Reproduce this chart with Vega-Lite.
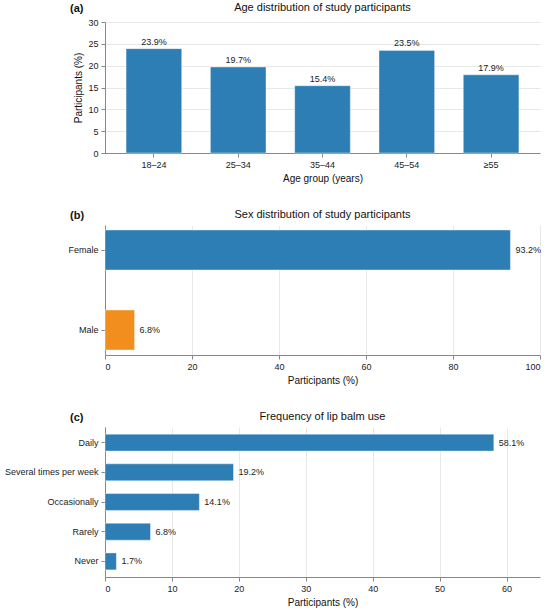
{
  "$schema": "https://vega.github.io/schema/vega-lite/v6.json",
  "description": "Study participants: age, sex and lip balm use",
  "padding": {"left": 4, "top": 2, "right": 5, "bottom": 4},
  "spacing": 26,
  "datasets": {
    "age": [
      {"group": "18–24", "pct": 23.9, "label": "23.9%"},
      {"group": "25–34", "pct": 19.7, "label": "19.7%"},
      {"group": "35–44", "pct": 15.4, "label": "15.4%"},
      {"group": "45–54", "pct": 23.5, "label": "23.5%"},
      {"group": "≥55", "pct": 17.9, "label": "17.9%"}
    ],
    "sex": [
      {"sex": "Female", "pct": 93.2, "label": "93.2%"},
      {"sex": "Male", "pct": 6.8, "label": "6.8%"}
    ],
    "freq": [
      {"freq": "Daily", "pct": 58.1, "label": "58.1%"},
      {"freq": "Several times per week", "pct": 19.2, "label": "19.2%"},
      {"freq": "Occasionally", "pct": 14.1, "label": "14.1%"},
      {"freq": "Rarely", "pct": 6.8, "label": "6.8%"},
      {"freq": "Never", "pct": 1.7, "label": "1.7%"}
    ]
  },
  "vconcat": [
    {
      "title": {"text": "(a)", "anchor": "start", "frame": "group", "dx": -35, "offset": -12, "fontWeight": "bold"},
      "vconcat": [
        {
          "title": "Age distribution of study participants",
          "width": 435,
          "height": 131,
          "data": {"name": "age"},
          "encoding": {
            "x": {
              "field": "group", "type": "nominal", "sort": null,
              "title": "Age group (years)",
              "scale": {"paddingInner": 0.34, "paddingOuter": 0.25},
              "axis": {"labelAngle": 0, "grid": false}
            },
            "y": {
              "field": "pct", "type": "quantitative",
              "title": "Participants (%)",
              "scale": {"domain": [0, 30], "nice": false},
              "axis": {"values": [0, 5, 10, 15, 20, 25, 30]}
            }
          },
          "layer": [
            {"mark": {"type": "bar", "color": "#2e7eb6", "stroke": "#ffffff", "strokeWidth": 0.8, "strokeOpacity": 0.5}},
            {"mark": {"type": "text", "baseline": "bottom", "dy": -2, "fontSize": 9, "color": "#222222"},
             "encoding": {"text": {"field": "label"}}}
          ]
        }
      ]
    },
    {
      "title": {"text": "(b)", "anchor": "start", "frame": "group", "dx": -35, "offset": -12, "fontWeight": "bold"},
      "vconcat": [
        {
          "title": "Sex distribution of study participants",
          "width": 435,
          "height": 130,
          "data": {"name": "sex"},
          "encoding": {
            "y": {
              "field": "sex", "type": "nominal", "sort": null, "title": null,
              "scale": {"paddingInner": 0.5, "paddingOuter": 0.0625},
              "axis": {"grid": false}
            },
            "x": {
              "field": "pct", "type": "quantitative",
              "title": "Participants (%)",
              "scale": {"domain": [0, 100], "nice": false},
              "axis": {"values": [0, 20, 40, 60, 80, 100]}
            }
          },
          "layer": [
            {"mark": {"type": "bar", "stroke": "#ffffff", "strokeWidth": 0.8, "strokeOpacity": 0.5},
             "encoding": {
               "color": {"field": "sex", "type": "nominal", "legend": null,
                 "scale": {"domain": ["Female", "Male"], "range": ["#2e7eb6", "#f28e1e"]}}
             }},
            {"mark": {"type": "text", "align": "left", "dx": 5, "fontSize": 9, "color": "#222222"},
             "encoding": {"text": {"field": "label"}}}
          ]
        }
      ]
    },
    {
      "title": {"text": "(c)", "anchor": "start", "frame": "group", "dx": -35, "offset": -12, "fontWeight": "bold"},
      "vconcat": [
        {
          "title": "Frequency of lip balm use",
          "width": 435,
          "height": 150,
          "data": {"name": "freq"},
          "encoding": {
            "y": {
              "field": "freq", "type": "nominal", "sort": null, "title": null,
              "scale": {"paddingInner": 0.43, "paddingOuter": 0.24},
              "axis": {"grid": false}
            },
            "x": {
              "field": "pct", "type": "quantitative",
              "title": "Participants (%)",
              "scale": {"domain": [0, 65], "nice": false},
              "axis": {"values": [0, 10, 20, 30, 40, 50, 60]}
            }
          },
          "layer": [
            {"mark": {"type": "bar", "color": "#2e7eb6", "stroke": "#ffffff", "strokeWidth": 0.8, "strokeOpacity": 0.5}},
            {"mark": {"type": "text", "align": "left", "dx": 5, "fontSize": 9, "color": "#222222"},
             "encoding": {"text": {"field": "label"}}}
          ]
        }
      ]
    }
  ],
  "config": {
    "font": "Liberation Sans",
    "view": {"stroke": null},
    "title": {"fontSize": 11, "fontWeight": "normal", "color": "#111111", "offset": 5},
    "axis": {
      "labelFontSize": 9,
      "labelColor": "#222222",
      "titleFontSize": 10,
      "titleFontWeight": "normal",
      "titleColor": "#111111",
      "domainColor": "#888888",
      "tickColor": "#888888",
      "tickSize": 4,
      "gridColor": "#e8e8e8",
      "labelPadding": 3
    }
  }
}
